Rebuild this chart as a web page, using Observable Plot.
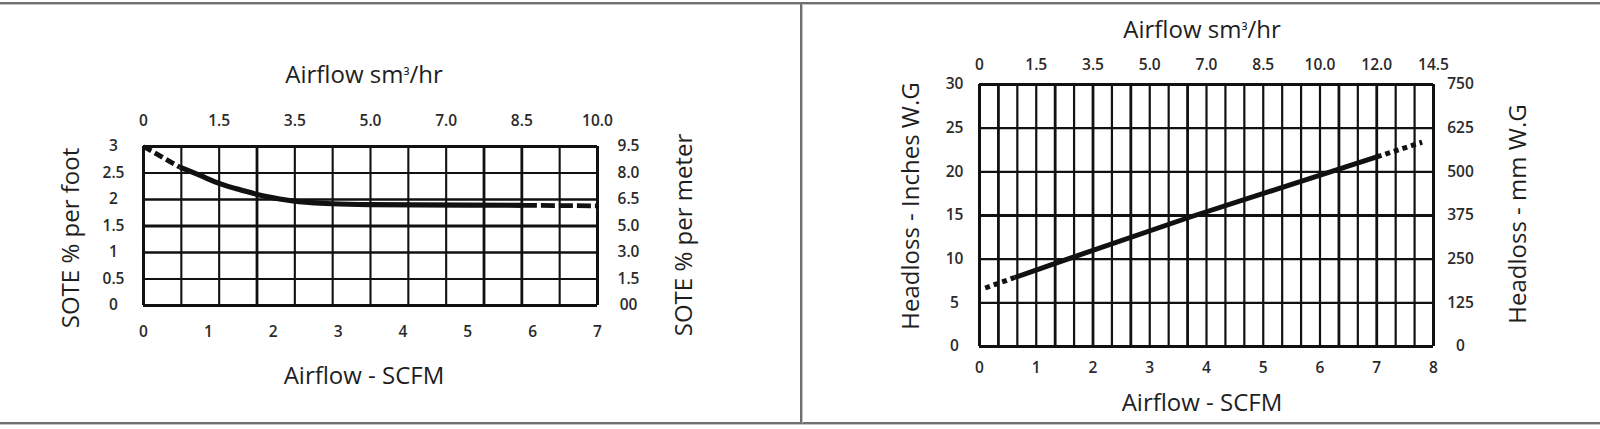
<!DOCTYPE html>
<html>
<head>
<meta charset="utf-8">
<script src="https://cdn.jsdelivr.net/npm/d3@7"></script>
<script src="https://cdn.jsdelivr.net/npm/@observablehq/plot@0.6"></script>
<style>
  html, body { margin: 0; padding: 0; background: #fff; }
  #wrap { position: relative; width: 1600px; height: 429px; overflow: hidden; background: #fff; }
  .panel { position: absolute; top: 0; }
  .t { position: absolute; font-family: "Open Sans", "Noto Sans", sans-serif; font-size: 24px; color: #1e1e1e;
       white-space: nowrap; transform: translate(-50%, -50%); line-height: 1; }
  .t .sup { font-size: 0.72em; position: relative; top: -0.05em; }
  .r { transform: translate(-50%, -50%) rotate(-90deg); }
  .hline { position: absolute; left: 0; width: 1600px; height: 2px; background: #707070; border-bottom: 1px solid #c4c4c4; }
  .vline { position: absolute; top: 4px; width: 2px; height: 419px; background: #707070; border-right: 1px solid #c4c4c4; }
</style>
</head>
<body>
<div id="wrap">
  <div class="hline" style="top:2px"></div>
  <div class="hline" style="top:422px"></div>
  <div class="vline" style="left:800px"></div>
  <div id="left" class="panel" style="left:0"></div>
  <div id="right" class="panel" style="left:800px"></div>

  <div class="t" style="left:364px; top:74px">Airflow sm<span class="sup">³</span>/hr</div>
  <div class="t" style="left:364px; top:375px">Airflow - SCFM</div>
  <div class="t r" style="left:70px; top:238px">SOTE % per foot</div>
  <div class="t r" style="left:683px; top:235px">SOTE % per meter</div>

  <div class="t" style="left:1202px; top:29px">Airflow sm<span class="sup">³</span>/hr</div>
  <div class="t" style="left:1202px; top:402px">Airflow - SCFM</div>
  <div class="t r" style="left:910px; top:206px">Headloss - Inches W.G</div>
  <div class="t r" style="left:1517px; top:214px">Headloss - mm W.G</div>
</div>
<script>
// ---------- LEFT CHART DATA (SOTE vs airflow) ----------
const leftScfmTicks = [0, 1, 2, 3, 4, 5, 6, 7];
const leftSoteFootTicks = [0, 0.5, 1, 1.5, 2, 2.5, 3];
const leftSm3hrLabels = ["0", "1.5", "3.5", "5.0", "7.0", "8.5", "10.0"];
const leftSoteMeterLabels = ["00", "1.5", "3.0", "5.0", "6.5", "8.0", "9.5"];
const leftGridDivisions = 12;

const leftDashStartX = [0, 0.56];
const leftDashStartY = [3.0, 2.61];
const leftSolidX = [0.56, 0.9, 1.2, 1.5, 1.77, 2.1, 2.4, 2.9, 3.5, 4.2, 5.0, 5.85];
const leftSolidY = [2.61, 2.44, 2.29, 2.18, 2.09, 2.01, 1.96, 1.92, 1.905, 1.9, 1.895, 1.89];
const leftDashEndX = [5.85, 7.0];
const leftDashEndY = [1.89, 1.88];

// ---------- RIGHT CHART DATA (Headloss vs airflow) ----------
const rightScfmTicks = [0, 1, 2, 3, 4, 5, 6, 7, 8];
const rightInchTicks = [0, 5, 10, 15, 20, 25, 30];
const rightSm3hrLabels = ["0", "1.5", "3.5", "5.0", "7.0", "8.5", "10.0", "12.0", "14.5"];
const rightMmLabels = ["0", "125", "250", "375", "500", "625", "750"];
const rightGridDivisions = 24;

const rightDotStartX = [0.1, 0.62];
const rightDotStartY = [6.7, 7.9];
const rightSolidX = [0.62, 1.5, 3.7, 7.0];
const rightSolidY = [7.9, 9.9, 14.8, 21.7];
const rightDotEndX = [7.0, 7.8];
const rightDotEndY = [21.7, 23.4];

// ---------- helpers ----------
const zip = (xs, ys) => xs.map((x, i) => ({x, y: ys[i]}));
const tickFont = "'Open Sans', Lato, sans-serif";
const tickSize = 15.5;
const tickWeight = 600;
const ink = "#111";
const txt = "#2a2a2a";

function labelMap(ticks, labels) {
  const m = new Map(ticks.map((t, i) => [t, labels[i]]));
  return d => m.get(d);
}
const tstyle = {fontSize: tickSize, fontFamily: tickFont, fontWeight: tickWeight, fill: txt, label: null, tickSize: 0};

// ---------- LEFT ----------
{
  const xMax = leftScfmTicks[leftScfmTicks.length - 1];
  const yMax = leftSoteFootTicks[leftSoteFootTicks.length - 1];
  const gridX = d3.range(leftGridDivisions + 1).map(i => i * xMax / leftGridDivisions);
  const thickX = new Set([0, 3, 9, 10, 12]);
  const gridXw = gridX.map((d, i) => ({v: d, w: (i === 0 || i === leftGridDivisions) ? 3 : thickX.has(i) ? 2.8 : 2.1}));
  const gridYw = leftSoteFootTicks.map((d, i) => ({v: d, w: (i === 0 || i === leftSoteFootTicks.length - 1) ? 3 : d === 1.5 ? 3 : (d === 1 || d === 2) ? 2.5 : 2.1}));
  const topTicks = leftSm3hrLabels.map((_, i) => i * 2 * xMax / leftGridDivisions);

  const chart = Plot.plot({
    width: 800, height: 429,
    marginLeft: 143, marginRight: 203, marginTop: 146, marginBottom: 124,
    x: {domain: [0, xMax]},
    y: {domain: [0, yMax]},
    style: {background: "transparent", overflow: "visible"},
    marks: [
      Plot.ruleX(gridXw, {x: "v", stroke: ink, strokeWidth: "w"}),
      Plot.ruleY(gridYw, {y: "v", stroke: ink, strokeWidth: "w"}),
      Plot.line(zip(leftDashStartX, leftDashStartY), {x: "x", y: "y", stroke: ink, strokeWidth: 4.8, strokeDasharray: "9,4", strokeLinecap: "butt"}),
      Plot.line(zip(leftSolidX, leftSolidY), {x: "x", y: "y", stroke: ink, strokeWidth: 5.2, curve: "natural", strokeLinecap: "butt"}),
      Plot.line(zip(leftDashEndX, leftDashEndY), {x: "x", y: "y", stroke: ink, strokeWidth: 4.8, strokeDasharray: "14,4", strokeLinecap: "butt"}),
      Plot.axisX(leftScfmTicks, {...tstyle, anchor: "bottom", tickPadding: 27, lineAnchor: "middle"}),
      Plot.axisX(topTicks, {...tstyle, anchor: "top", tickPadding: 25, lineAnchor: "middle", tickFormat: labelMap(topTicks, leftSm3hrLabels)}),
      Plot.axisY(leftSoteFootTicks, {...tstyle, anchor: "left", tickPadding: 30, textAnchor: "middle", tickFormat: d => String(d)}),
      Plot.axisY(leftSoteFootTicks, {...tstyle, anchor: "right", tickPadding: 31, textAnchor: "middle", tickFormat: labelMap(leftSoteFootTicks, leftSoteMeterLabels)})
    ]
  });
  document.getElementById("left").append(chart);
}

// ---------- RIGHT ----------
{
  const xMax = rightScfmTicks[rightScfmTicks.length - 1];
  const yMax = rightInchTicks[rightInchTicks.length - 1];
  const gridX = d3.range(rightGridDivisions + 1).map(i => i * xMax / rightGridDivisions);
  const thickX = new Set([1, 4, 6, 8, 11, 19, 21]);
  const gridXw = gridX.map((d, i) => ({v: d, w: (i === 0 || i === rightGridDivisions) ? 3 : thickX.has(i) ? 2.8 : 2.2}));
  const gridYw = rightInchTicks.map((d, i) => ({v: d, w: (i === 0 || i === rightInchTicks.length - 1) ? 3 : d === 15 ? 3 : 2.3}));
  const topTicks = rightScfmTicks;

  const chart = Plot.plot({
    width: 800, height: 429,
    marginLeft: 179, marginRight: 167, marginTop: 84, marginBottom: 83,
    x: {domain: [0, xMax]},
    y: {domain: [0, yMax]},
    style: {background: "transparent", overflow: "visible"},
    marks: [
      Plot.ruleX(gridXw, {x: "v", stroke: ink, strokeWidth: "w"}),
      Plot.ruleY(gridYw, {y: "v", stroke: ink, strokeWidth: "w"}),
      Plot.line(zip(rightDotStartX, rightDotStartY), {x: "x", y: "y", stroke: ink, strokeWidth: 5, strokeDasharray: "5,4", strokeLinecap: "butt"}),
      Plot.line(zip(rightSolidX, rightSolidY), {x: "x", y: "y", stroke: ink, strokeWidth: 5, strokeLinecap: "butt"}),
      Plot.line(zip(rightDotEndX, rightDotEndY), {x: "x", y: "y", stroke: ink, strokeWidth: 5, strokeDasharray: "5,4", strokeLinecap: "butt"}),
      Plot.axisX(rightScfmTicks, {...tstyle, anchor: "bottom", tickPadding: 22, lineAnchor: "middle"}),
      Plot.axisX(topTicks, {...tstyle, anchor: "top", tickPadding: 19, lineAnchor: "middle", tickFormat: labelMap(topTicks, rightSm3hrLabels)}),
      Plot.axisY(rightInchTicks, {...tstyle, anchor: "left", tickPadding: 25, textAnchor: "middle", tickFormat: d => String(d)}),
      Plot.axisY(rightInchTicks, {...tstyle, anchor: "right", tickPadding: 27, textAnchor: "middle", tickFormat: labelMap(rightInchTicks, rightMmLabels)})
    ]
  });
  document.getElementById("right").append(chart);
}
</script>
</body>
</html>
